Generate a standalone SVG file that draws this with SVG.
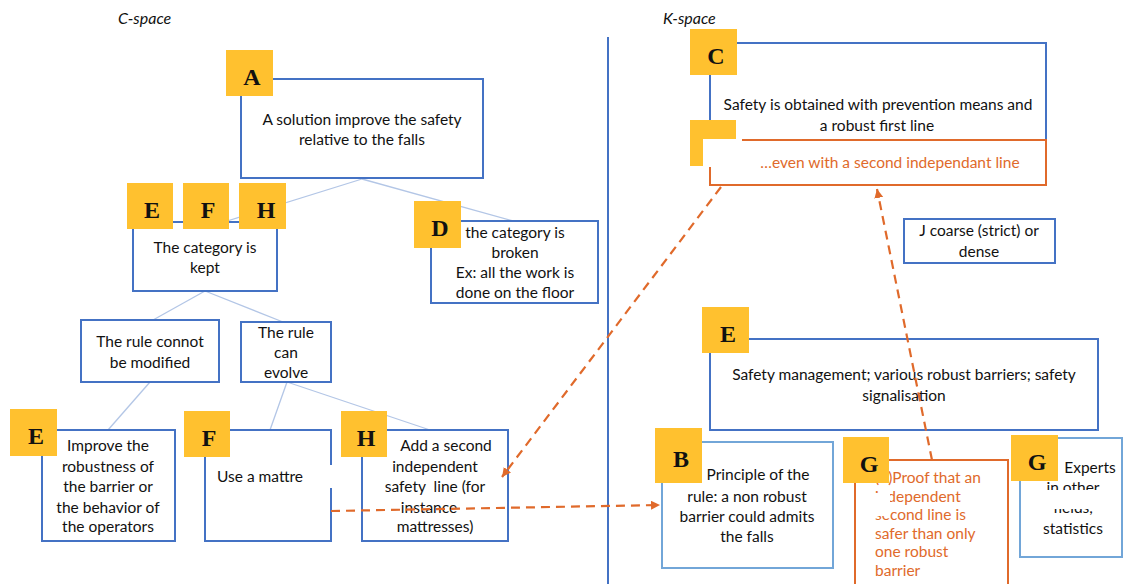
<svg xmlns="http://www.w3.org/2000/svg" width="1124" height="584" viewBox="0 0 1124 584">
<style>
.box{fill:#fff;stroke:#4472C4;stroke-width:2}
.lbox{fill:#fff;stroke:#72A6D8;stroke-width:2}
.obox{fill:#fff;stroke:#E06A2B;stroke-width:2}
.badge{fill:#FFC12F}
.bl{font-family:"Liberation Serif",serif;font-weight:bold;font-size:24px;fill:#111;text-anchor:middle}
.t{font-family:Lato,"Liberation Sans",sans-serif;font-size:15.5px;fill:#111;text-anchor:middle}
.to{fill:#E06A2B}
.tl{text-anchor:start}
.it{font-style:italic;font-size:16px}
.tree{stroke:#B3C6E6;stroke-width:1.3;fill:none}
.dash{stroke:#E06A2B;stroke-width:2.2;stroke-dasharray:9 6;fill:none}
.wipe{fill:#fff}
</style>
<defs>
<marker id="ah" markerWidth="10" markerHeight="10" refX="9" refY="4.5" orient="auto" markerUnits="userSpaceOnUse">
<path d="M0,0 L9,4.5 L0,9 z" fill="#E06A2B"/>
</marker>
</defs>
<rect width="1124" height="584" fill="#fff"/>
<text class="t tl it" x="118" y="24">C-space</text>
<text class="t tl it" x="663" y="24">K-space</text>
<line x1="608" y1="37" x2="608" y2="584" stroke="#4472C4" stroke-width="2"/>

<g id="tree-connectors">
<line class="tree" x1="362" y1="179" x2="224" y2="222"/>
<line class="tree" x1="362" y1="179" x2="513" y2="221"/>
<line class="tree" x1="205" y1="291" x2="153" y2="320"/>
<line class="tree" x1="205" y1="291" x2="283" y2="322"/>
<line class="tree" x1="150" y1="382" x2="108" y2="430"/>
<line class="tree" x1="287" y1="382" x2="270" y2="430"/>
<line class="tree" x1="287" y1="382" x2="430" y2="430"/>
</g>

<g id="nodeA">
<rect class="box" x="241" y="79" width="242" height="99"/>
<text class="t" x="362" y="125">A solution improve the safety</text>
<text class="t" x="362" y="145">relative to the falls</text>
<rect class="badge" x="226" y="50" width="47" height="46"/>
<text class="bl" x="252" y="85">A</text>
</g>

<g id="nodeKept">
<rect class="box" x="133" y="222" width="144" height="69"/>
<text class="t" x="205" y="253">The category is</text>
<text class="t" x="205" y="273">kept</text>
<rect class="badge" x="127" y="183" width="46" height="46"/>
<text class="bl" x="152" y="218">E</text>
<rect class="badge" x="183" y="183" width="46" height="46"/>
<text class="bl" x="208" y="218">F</text>
<rect class="badge" x="239" y="183" width="47" height="46"/>
<text class="bl" x="266" y="218">H</text>
</g>

<g id="nodeD">
<rect class="box" x="431" y="221" width="167" height="82"/>
<text class="t" x="515" y="238">the category is</text>
<text class="t" x="515" y="258">broken</text>
<text class="t" x="515" y="278">Ex: all the work is</text>
<text class="t" x="515" y="298">done on the floor</text>
<rect class="badge" x="414" y="201" width="47" height="47"/>
<text class="bl" x="440" y="236">D</text>
</g>

<g id="nodeConnot">
<rect class="box" x="81" y="320" width="138" height="62"/>
<text class="t" x="150" y="347">The rule connot</text>
<text class="t" x="150" y="368">be modified</text>
</g>

<g id="nodeEvolve">
<rect class="box" x="241" y="322" width="90" height="60"/>
<text class="t" x="286" y="338">The rule</text>
<text class="t" x="286" y="358">can</text>
<text class="t" x="286" y="378">evolve</text>
</g>

<g id="nodeImprove">
<rect class="box" x="42" y="430" width="133" height="111"/>
<text class="t" x="108" y="451">Improve the</text>
<text class="t" x="108" y="472">robustness of</text>
<text class="t" x="108" y="492">the barrier or</text>
<text class="t" x="108" y="513">the behavior of</text>
<text class="t" x="108" y="532">the operators</text>
<rect class="badge" x="10" y="409" width="47" height="47"/>
<text class="bl" x="36" y="444">E</text>
</g>

<g id="nodeMattress">
<rect class="box" x="205" y="430" width="126" height="111"/>
<rect class="wipe" x="326" y="465" width="10" height="23"/>
<text class="t tl" x="217" y="482">Use a mattre</text>
<rect class="badge" x="184" y="411" width="46" height="46"/>
<text class="bl" x="209" y="446">F</text>
</g>

<g id="nodeSecondLine">
<rect class="box" x="362" y="430" width="146" height="111"/>
<text class="t" x="446" y="451">Add a second</text>
<text class="t" x="435" y="472">independent</text>
<text class="t" x="435" y="492" xml:space="preserve">safety  line (for</text>
<text class="t" x="429" y="513">instance</text>
<text class="t" x="435" y="532">mattresses)</text>
<rect class="badge" x="341" y="411" width="46" height="46"/>
<text class="bl" x="366" y="446">H</text>
</g>

<g id="nodeC">
<rect class="box" x="710" y="43" width="336" height="107"/>
<text class="t" x="878" y="110">Safety is obtained with prevention means and</text>
<text class="t" x="877" y="131">a robust first line</text>
<rect class="badge" x="690" y="29" width="47" height="46"/>
<text class="bl" x="716" y="64">C</text>
</g>

<g id="nodeC2">
<rect class="badge" x="690" y="120" width="46" height="46"/>
<text class="bl" x="716" y="155">C</text>
<rect class="obox" x="710" y="140" width="336" height="45"/>
<rect class="wipe" x="703" y="139" width="39" height="28"/>
<text class="t to" x="890" y="168">…even with a second independant line</text>
</g>

<g id="nodeJ">
<rect class="box" x="904" y="219" width="151" height="44"/>
<text class="t" x="979" y="236">J coarse (strict) or</text>
<text class="t" x="979" y="257">dense</text>
</g>

<g id="nodeE2">
<rect class="box" x="710" y="339" width="388" height="91"/>
<text class="t" x="904" y="380">Safety management; various robust barriers; safety</text>
<text class="t" x="904" y="401">signalisation</text>
<rect class="badge" x="702" y="307" width="47" height="46"/>
<text class="bl" x="728" y="342">E</text>
</g>

<g id="nodeB">
<rect class="lbox" x="662" y="442" width="171" height="126"/>
<text class="t" x="758" y="480">Principle of the</text>
<text class="t" x="747" y="502">rule: a non robust</text>
<text class="t" x="747" y="522">barrier could admits</text>
<text class="t" x="747" y="542">the falls</text>
<rect class="badge" x="655" y="428" width="47" height="55"/>
<text class="bl" x="681" y="467">B</text>
</g>

<g id="nodeG1">
<rect class="obox" x="855" y="460" width="153" height="140"/>
<text class="t to tl" x="875" y="483">(1)Proof that an</text>
<text class="t to tl" x="875" y="501.5">independent</text>
<text class="t to tl" x="875" y="520">second line is</text>
<text class="t to tl" x="875" y="538.5">safer than only</text>
<text class="t to tl" x="875" y="557">one robust</text>
<text class="t to tl" x="875" y="575.5">barrier</text>
<rect class="wipe" x="869" y="493" width="21" height="23"/>
<rect class="badge" x="843" y="437" width="46" height="46"/>
<text class="bl" x="869" y="472">G</text>
</g>

<g id="nodeG2">
<rect class="lbox" x="1020" y="438" width="102" height="119"/>
<text class="t" x="1090" y="473">Experts</text>
<text class="t" x="1073" y="493">in other</text>
<text class="t" x="1073" y="513">fields,</text>
<text class="t" x="1073" y="534">statistics</text>
<rect class="wipe" x="1035" y="490" width="76" height="19"/>
<rect class="badge" x="1011" y="435" width="47" height="46"/>
<text class="bl" x="1037" y="470">G</text>
</g>

<g id="cross-connectors">
<line class="dash" x1="331" y1="511" x2="660" y2="505" marker-end="url(#ah)"/>
<line class="dash" x1="721" y1="187" x2="502" y2="477" marker-end="url(#ah)"/>
<line class="dash" x1="932" y1="460" x2="877" y2="189" marker-end="url(#ah)"/>
</g>
</svg>
